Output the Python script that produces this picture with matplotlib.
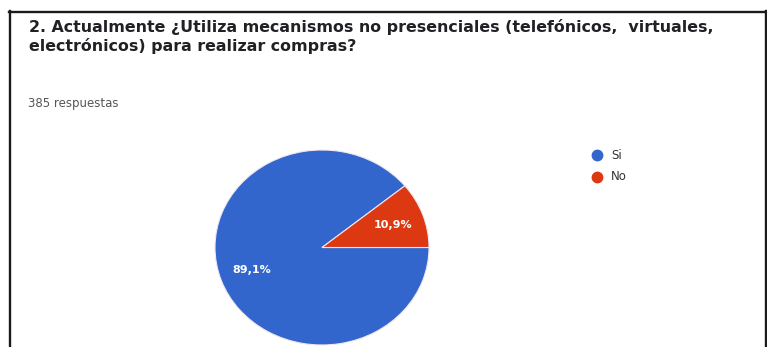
import matplotlib.pyplot as plt
from matplotlib.lines import Line2D

title_lines = [
    "2. Actualmente ¿Utiliza mecanismos no presenciales (telefónicos,  virtuales,",
    "electrónicos) para realizar compras?",
]
responses_label = "385 respuestas"
answers = ["Si", "No"]
shares = [89.1, 10.9]
colors = ["#3366cc", "#dc3912"]

W, H = 767, 347
fig = plt.figure(figsize=(W / 100, H / 100), dpi=100)
fig.patch.set_facecolor("white")


def fx(px):
    return px / W


def fy(py):
    return 1 - py / H


# frame lines (top and sides)
for xs, ys in [((9, 767), (11.5, 11.5)), ((9.5, 9.5), (11, 347)), ((766, 766), (11, 347))]:
    fig.add_artist(Line2D([fx(x) for x in xs], [fy(y) for y in ys],
                          color="#1a1a1a", linewidth=1.7))

fig.text(fx(29), fy(32), title_lines[0], fontsize=11.4, fontweight="bold",
         color="#202124", va="baseline", ha="left")
fig.text(fx(29), fy(51), title_lines[1], fontsize=11.4, fontweight="bold",
         color="#202124", va="baseline", ha="left")
fig.text(fx(28), fy(107), responses_label, fontsize=8.5, color="#555555",
         va="baseline", ha="left")

# pie, slightly wider than tall
ax = fig.add_axes([fx(215), fy(345), fx(429) - fx(215), (345 - 150) / H])
wedges, _, autotexts = ax.pie(
    shares,
    colors=colors,
    startangle=0,
    counterclock=False,
    autopct=lambda p: f"{p:.1f}%".replace(".", ","),
    pctdistance=0.7,
    wedgeprops={"edgecolor": "#f0e6f0", "linewidth": 0.8},
    textprops={"color": "white", "fontsize": 8, "fontweight": "bold"},
)
ax.set_aspect("auto")
ax.set_xlim(-1, 1)
ax.set_ylim(-1, 1)
ax.axis("off")

# legend
for i, (name, c) in enumerate(zip(answers, colors)):
    y = 155 + i * 22
    fig.add_artist(Line2D([fx(597)], [fy(y)], marker="o", markersize=7.5,
                          color=c, linestyle="none"))
    fig.text(fx(611), fy(y), name, fontsize=8.5, color="#333333",
             va="center", ha="left")

fig.savefig("out.png", dpi=100)
